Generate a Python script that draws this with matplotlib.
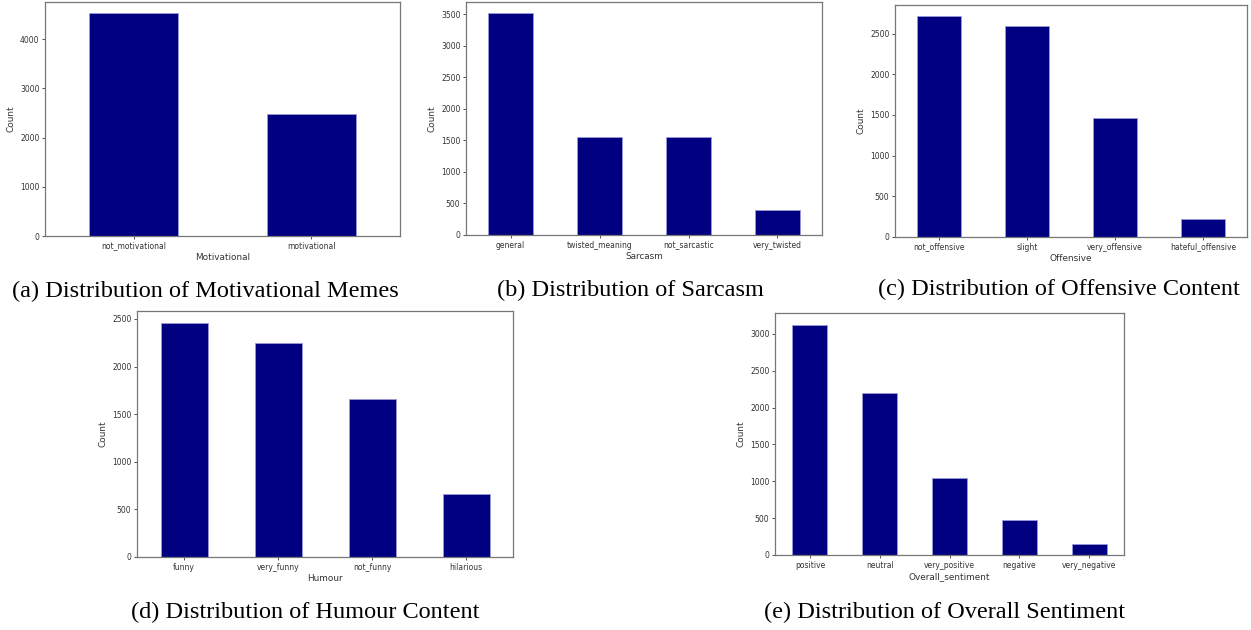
import numpy as np
import matplotlib
matplotlib.use('Agg')
import matplotlib.pyplot as plt

# data
motiv_cats = ['not_motivational', 'motivational']
motiv_vals = [4526, 2473]

sarc_cats = ['general', 'twisted_meaning', 'not_sarcastic', 'very_twisted']
sarc_vals = [3517, 1550, 1548, 399]

off_cats = ['not_offensive', 'slight', 'very_offensive', 'hateful_offensive']
off_vals = [2715, 2596, 1466, 225]

hum_cats = ['funny', 'very_funny', 'not_funny', 'hilarious']
hum_vals = [2460, 2246, 1656, 660]

sent_cats = ['positive', 'neutral', 'very_positive', 'negative', 'very_negative']
sent_vals = [3127, 2202, 1039, 480, 151]

W, H = 1251, 630
fig = plt.figure(figsize=(W/100, H/100), dpi=100)

def px_axes(x0, y0, x1, y1):
    return fig.add_axes([x0/W, 1-y1/H, (x1-x0)/W, (y1-y0)/H])

def bar_panel(ax, cats, vals, xlabel):
    x = np.arange(len(cats))
    ax.bar(x, vals, width=0.5, color='#000080', edgecolor='#9a9ad8', linewidth=0.6)
    ax.set_xlim(-0.5, len(cats)-0.5)
    ax.set_xticks(x)
    ax.set_xticklabels(cats)
    ax.set_xlabel(xlabel, fontsize=6.4, color='#333333', labelpad=1.5)
    ax.set_ylabel('Count', fontsize=6.4, color='#333333', labelpad=3)
    ax.tick_params(labelsize=5.5, colors='#333333', length=2, width=0.6, pad=2)
    for s in ax.spines.values():
        s.set_color('#777777')
        s.set_linewidth(0.9)

ax1 = px_axes(45, 2, 400, 236)
bar_panel(ax1, motiv_cats, motiv_vals, 'Motivational')
ax2 = px_axes(466, 2, 822, 235)
bar_panel(ax2, sarc_cats, sarc_vals, 'Sarcasm')
ax3 = px_axes(895, 5, 1247, 237)
bar_panel(ax3, off_cats, off_vals, 'Offensive')
ax4 = px_axes(137, 311, 513, 557)
bar_panel(ax4, hum_cats, hum_vals, 'Humour')
ax5 = px_axes(775, 313, 1124, 555)
bar_panel(ax5, sent_cats, sent_vals, 'Overall_sentiment')

captions = [
    (205, 291, '(a) Distribution of Motivational Memes'),
    (630, 290, '(b) Distribution of Sarcasm'),
    (1059, 289, '(c) Distribution of Offensive Content'),
    (305, 612, '(d) Distribution of Humour Content'),
    (945, 612, '(e) Distribution of Overall Sentiment'),
]
for cx, cy, txt in captions:
    fig.text(cx/W, 1-cy/H, txt, ha='center', va='center',
             fontsize=17.5, family='Liberation Serif', color='black')

fig.savefig('out.png', dpi=100)
